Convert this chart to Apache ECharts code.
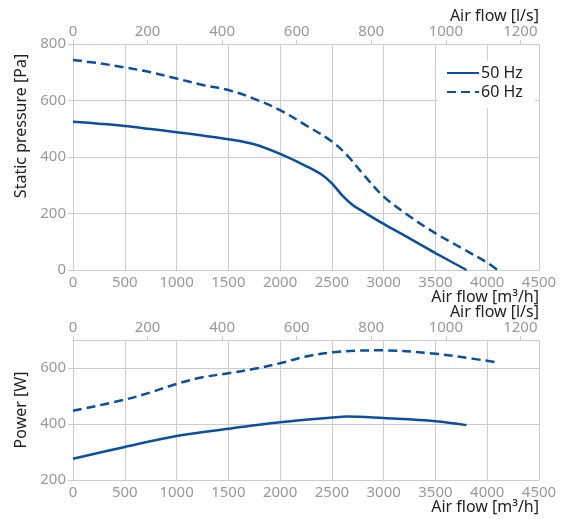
<!DOCTYPE html>
<html>
<head>
<meta charset="utf-8">
<script src="https://cdn.jsdelivr.net/npm/echarts@6/dist/echarts.min.js"></script>
<style>html,body{margin:0;padding:0;background:#fff}#c{width:563px;height:519px}</style>
</head>
<body>
<div id="c"></div>
<script>
// Static pressure curves (x: air flow m3/h, y: Pa)
const flowP50 = [0, 250, 500, 750, 1000, 1250, 1500, 1750, 2000, 2250, 2400, 2500, 2600, 2700, 2800, 3000, 3250, 3500, 3800];
const pres50  = [525, 518, 510, 499, 488, 476, 463, 445, 411, 368, 338, 307, 264, 230, 207, 163, 112, 60, 0];
const flowP60 = [0, 250, 500, 750, 1000, 1250, 1500, 1750, 2000, 2250, 2500, 2650, 2800, 3000, 3250, 3500, 3750, 4000, 4100];
const pres60  = [743, 732, 717, 700, 678, 655, 637, 606, 566, 512, 455, 405, 340, 260, 190, 130, 78, 26, 0];
// Power curves (x: air flow m3/h, y: W)
const flowW50 = [0, 500, 1000, 1500, 2000, 2500, 2650, 3000, 3500, 3800];
const power50 = [276, 318, 357, 383, 406, 423, 427, 421, 410, 396];
const flowW60 = [0, 500, 750, 1000, 1250, 1500, 1750, 2000, 2250, 2500, 2750, 3000, 3500, 3750, 4100];
const power60 = [447, 487, 513, 543, 567, 581, 597, 617, 641, 656, 662, 663, 651, 639, 620];
const seriesNames = ['50 Hz', '60 Hz'];
const nameM3h = 'Air flow [m³/h]';
const nameLs = 'Air flow [l/s]';
const namePa = 'Static pressure [Pa]';
const nameW = 'Power [W]';

const pairs = (xs, ys) => xs.map((x, i) => [x, ys[i]]);
const FONT = 'Noto Sans';
const BLUE = '#0b4fa3';
const GRID = '#cccccc';
const LBL = '#999999';
const plain = v => String(v);

function bottomX(gridIndex) {
  return {
    type: 'value', gridIndex, position: 'bottom', min: 0, max: 4500, interval: 500,
    name: nameM3h, nameLocation: 'end', nameGap: 0, nameMoveOverlap: false,
    nameTextStyle: { color: '#222', fontFamily: FONT, fontSize: 16, align: 'right', verticalAlign: 'top', padding: [19, 0, 0, 0] },
    axisLine: { show: true, lineStyle: { color: GRID, width: 1 } },
    axisTick: { show: false },
    axisLabel: { color: LBL, fontFamily: FONT, fontSize: 15, margin: 5, formatter: plain },
    splitLine: { show: true, lineStyle: { color: GRID, width: 1 } }
  };
}
function topX(gridIndex) {
  return {
    type: 'value', gridIndex, position: 'top', min: 0, max: 1250, interval: 200,
    name: nameLs, nameLocation: 'end', nameGap: 0, nameMoveOverlap: false,
    nameTextStyle: { color: '#222', fontFamily: FONT, fontSize: 16, align: 'right', verticalAlign: 'bottom', padding: [0, 0, 20, 0] },
    axisLine: { show: true, lineStyle: { color: GRID, width: 1 } },
    axisTick: { show: true, length: 4, lineStyle: { color: GRID } },
    axisLabel: { color: LBL, fontFamily: FONT, fontSize: 15, margin: 5, showMaxLabel: false, formatter: plain },
    splitLine: { show: false }
  };
}
function yAx(gridIndex, min, max, name, pad) {
  return {
    type: 'value', gridIndex, min, max, interval: 200,
    name, nameLocation: 'middle', nameGap: 43,
    nameTextStyle: { color: '#222', fontFamily: FONT, fontSize: 16, padding: pad },
    axisLine: { show: true, lineStyle: { color: GRID, width: 1 } },
    axisTick: { show: true, length: 5, lineStyle: { color: GRID } },
    axisLabel: { color: LBL, fontFamily: FONT, fontSize: 15, margin: 7, showMaxLabel: max === 800, formatter: plain },
    splitLine: { show: true, lineStyle: { color: GRID, width: 1 } }
  };
}
function line(name, data, xi, yi, dashed) {
  return {
    name, type: 'line', xAxisIndex: xi, yAxisIndex: yi, data, smooth: 0.35,
    symbol: 'none', showSymbol: false, animation: false,
    lineStyle: { color: BLUE, width: 2.5, type: dashed ? [9, 5] : 'solid' },
    itemStyle: { color: BLUE }
  };
}

const chart = echarts.init(document.getElementById('c'));
chart.setOption({
  animation: false,
  backgroundColor: '#fff',
  grid: [
    { left: 73, right: 24, top: 44, height: 226, containLabel: false, outerBoundsMode: 'none' },
    { left: 73, right: 24, top: 340, height: 140, containLabel: false, outerBoundsMode: 'none' }
  ],
  xAxis: [bottomX(0), topX(0), bottomX(1), topX(1)],
  yAxis: [yAx(0, 0, 800, namePa, [0, 0, 0, 62]), yAx(1, 200, 700, nameW, 0)],
  legend: {
    data: seriesNames, orient: 'vertical', left: 438, top: 61,
    backgroundColor: '#fff', padding: [4, 12, 8, 8],
    itemWidth: 32, itemHeight: 12, itemGap: 3,
    itemStyle: { opacity: 0 },
    textStyle: { color: '#222', fontFamily: FONT, fontSize: 16, padding: [0, 0, 0, -3] }
  },
  series: [
    line(seriesNames[0], pairs(flowP50, pres50), 0, 0, false),
    line(seriesNames[1], pairs(flowP60, pres60), 0, 0, true),
    line(seriesNames[0], pairs(flowW50, power50), 2, 1, false),
    line(seriesNames[1], pairs(flowW60, power60), 2, 1, true)
  ]
});
</script>
</body>
</html>
